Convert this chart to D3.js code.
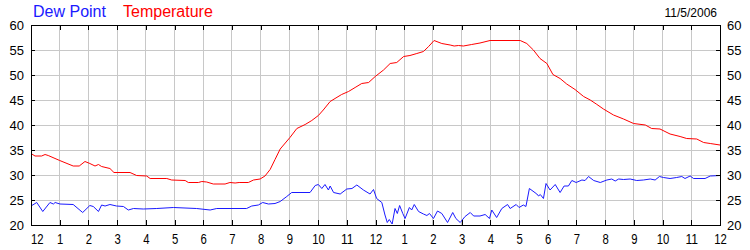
<!DOCTYPE html>
<html>
<head>
<meta charset="utf-8">
<script src="https://cdn.jsdelivr.net/npm/d3@7"></script>
<style>
  body { margin: 0; background: #fff; }
  text { font-family: Arial, "Liberation Sans", sans-serif; }
</style>
</head>
<body>
<svg id="chart" width="750" height="250"></svg>
<script>
// readings for 11/5/2006, hour of day -> degrees
const tempHours = [0, 0.14, 0.37, 0.49, 0.6, 1, 1.47, 1.68, 1.88, 2.05, 2.23, 2.35, 2.46, 2.75, 2.89, 3.45, 3.68, 4.03, 4.15, 4.73, 4.9, 5.37, 5.48, 5.83, 5.95, 6.12, 6.35, 6.76, 6.93, 7.11, 7.25, 7.57, 7.75, 7.98, 8.15, 8.33, 8.5, 8.68, 9.02, 9.26, 9.55, 9.78, 10.01, 10.18, 10.42, 10.59, 10.82, 11.06, 11.29, 11.52, 11.76, 11.99, 12.28, 12.51, 12.74, 12.98, 13.2, 13.44, 13.67, 13.85, 14.04, 14.31, 14.6, 14.74, 14.89, 15.06, 15.35, 15.64, 15.99, 17.04, 17.27, 17.5, 17.73, 17.97, 18.18, 18.43, 18.66, 18.95, 19.25, 19.48, 19.69, 19.94, 20.29, 20.64, 20.99, 21.4, 21.62, 21.91, 22.26, 22.61, 22.84, 23.19, 23.43, 23.66, 24];
const tempValues = [34.3, 33.8, 33.8, 34.1, 33.9, 32.9, 31.8, 31.8, 32.7, 32.3, 31.8, 32.1, 31.7, 31.3, 30.5, 30.5, 29.9, 29.8, 29.3, 29.3, 29.0, 28.9, 28.5, 28.5, 28.7, 28.6, 28.2, 28.2, 28.5, 28.4, 28.5, 28.5, 29.0, 29.2, 29.8, 31.1, 33.1, 35.2, 37.5, 39.3, 40.1, 40.9, 41.9, 43.0, 44.7, 45.3, 46.1, 46.7, 47.5, 48.3, 48.5, 49.7, 51.0, 52.3, 52.5, 53.7, 53.9, 54.3, 54.7, 55.7, 56.9, 56.3, 56.0, 55.8, 55.9, 55.8, 56.1, 56.4, 56.9, 56.9, 56.3, 55.0, 53.3, 52.3, 50.1, 49.3, 48.2, 47.1, 45.7, 45.0, 44.2, 43.2, 42.0, 41.2, 40.3, 40.0, 39.3, 39.2, 38.2, 37.7, 37.3, 37.2, 36.5, 36.3, 36.0];

const dewHours = [0, 0.2, 0.41, 0.66, 0.78, 0.84, 1.01, 1.47, 1.8, 2.05, 2.17, 2.35, 2.46, 2.58, 2.75, 2.98, 3.22, 3.39, 3.57, 3.91, 4.38, 4.96, 5.77, 6.24, 6.47, 7.51, 7.69, 7.92, 8.07, 8.27, 8.5, 8.68, 8.91, 9.08, 9.37, 9.72, 9.9, 10.01, 10.13, 10.24, 10.36, 10.42, 10.54, 10.77, 11, 11.18, 11.35, 11.58, 11.81, 11.93, 12.04, 12.22, 12.33, 12.41, 12.48, 12.58, 12.68, 12.76, 12.84, 12.95, 13.03, 13.18, 13.26, 13.35, 13.5, 13.67, 13.79, 13.88, 14.02, 14.16, 14.31, 14.51, 14.69, 14.8, 14.95, 15.12, 15.3, 15.42, 15.64, 15.82, 15.97, 16.05, 16.22, 16.4, 16.6, 16.69, 16.9, 17, 17.15, 17.24, 17.36, 17.62, 17.68, 17.74, 17.85, 17.94, 18.08, 18.26, 18.43, 18.57, 18.72, 18.84, 18.99, 19.19, 19.3, 19.42, 19.6, 19.83, 20.06, 20.23, 20.35, 20.47, 20.64, 20.87, 21.1, 21.33, 21.57, 21.74, 21.89, 22.03, 22.26, 22.49, 22.67, 22.78, 22.96, 23.08, 23.48, 23.66, 24];
const dewValues = [23.8, 24.5, 22.7, 24.5, 24.2, 24.5, 24.2, 24.1, 22.5, 23.9, 23.7, 22.7, 24.0, 23.8, 24.1, 23.8, 23.7, 23.0, 23.3, 23.2, 23.3, 23.5, 23.3, 23.0, 23.3, 23.3, 23.8, 24.0, 24.5, 24.2, 24.3, 24.7, 25.7, 26.5, 26.5, 26.5, 27.9, 28.1, 27.3, 28.1, 27.0, 27.8, 26.5, 26.2, 27.2, 27.3, 28.0, 27.0, 26.2, 27.1, 25.3, 24.5, 22.0, 20.5, 21.1, 20.2, 23.3, 22.3, 23.9, 22.3, 21.3, 23.5, 23.0, 24.1, 22.7, 22.2, 21.9, 22.3, 21.3, 22.8, 22.3, 20.5, 22.5, 21.3, 20.5, 21.7, 22.5, 21.8, 21.8, 22.1, 21.3, 23.0, 21.5, 23.3, 24.1, 23.3, 24.1, 23.5, 24.0, 23.7, 27.3, 26.2, 25.8, 26.1, 25.3, 28.3, 27.0, 28.1, 26.5, 27.8, 27.8, 28.9, 28.5, 29.0, 28.9, 29.7, 28.9, 28.5, 29.0, 29.2, 28.8, 29.2, 29.1, 29.2, 28.9, 29.0, 29.2, 29.0, 29.7, 29.5, 29.3, 29.5, 29.7, 29.3, 29.8, 29.3, 29.3, 29.8, 29.9];

const hourTicks = d3.range(0, 25);          // 12, 1, ... 11, 12
const degreeTicks = [20, 25, 30, 35, 40, 45, 50, 55, 60];
const legendNames = ['Dew Point', 'Temperature'];
const chartDate = '11/5/2006';

const svg = d3.select('#chart');
const plotLeft = 31, plotRight = 720, plotTop = 25, plotBottom = 225;

const x = d3.scaleLinear().domain([0, 24]).range([plotLeft, plotRight]);
const y = d3.scaleLinear().domain([20, 60]).range([plotBottom, plotTop]);

svg.append('rect').attr('width', 750).attr('height', 250).attr('fill', '#fff');

// grid
const grid = svg.append('g')
  .attr('stroke', '#c8c8c8')
  .attr('shape-rendering', 'crispEdges');
grid.selectAll('.vg').data(hourTicks.slice(1, -1)).join('line')
  .attr('x1', d => x(d)).attr('x2', d => x(d))
  .attr('y1', plotTop).attr('y2', plotBottom);
grid.selectAll('.hg').data(degreeTicks.slice(1, -1)).join('line')
  .attr('x1', plotLeft).attr('x2', plotRight)
  .attr('y1', d => y(d)).attr('y2', d => y(d));

// series
const line = d3.line().x(d => x(d[0])).y(d => y(d[1]));
svg.append('path')
  .datum(d3.zip(dewHours, dewValues))
  .attr('fill', 'none').attr('stroke', '#1a1aff').attr('stroke-width', 1)
  .attr('d', line);
svg.append('path')
  .datum(d3.zip(tempHours, tempValues))
  .attr('fill', 'none').attr('stroke', '#ff0000').attr('stroke-width', 1)
  .attr('d', line);

// frame
svg.append('rect')
  .attr('x', plotLeft).attr('y', plotTop)
  .attr('width', plotRight - plotLeft).attr('height', plotBottom - plotTop)
  .attr('fill', 'none').attr('stroke', '#000')
  .attr('shape-rendering', 'crispEdges');

const hourLabel = d => (d % 12 === 0 ? 12 : d % 12);

function styleAxis(g, size) {
  g.select('.domain').remove();
  g.selectAll('line').attr('shape-rendering', 'crispEdges');
  g.selectAll('text').attr('font-size', size).attr('fill', '#000')
    .attr('font-family', 'Arial, "Liberation Sans", sans-serif');
}

// bottom axis, ticks pointing inward
const xAxis = svg.append('g')
  .attr('transform', `translate(0,${plotBottom})`)
  .call(d3.axisBottom(x).tickValues(hourTicks).tickFormat(hourLabel)
    .tickSizeInner(-5).tickSizeOuter(0).tickPadding(9))
  .call(g => styleAxis(g, 14));
xAxis.selectAll('text')
  .attr('textLength', d => String(hourLabel(d)).length * 6.3)
  .attr('lengthAdjust', 'spacingAndGlyphs');
xAxis.select('.tick text').attr('text-anchor', 'start').attr('x', -0.5);

svg.append('g')
  .attr('transform', `translate(0,${plotTop})`)
  .call(d3.axisTop(x).tickValues(hourTicks.slice(1, -1)).tickFormat('')
    .tickSizeInner(-5).tickSizeOuter(0))
  .call(g => styleAxis(g, 12));

svg.append('g')
  .attr('transform', `translate(${plotLeft},0)`)
  .call(d3.axisLeft(y).tickValues(degreeTicks)
    .tickSizeInner(-4).tickSizeOuter(0).tickPadding(7))
  .call(g => styleAxis(g, 13));

svg.append('g')
  .attr('transform', `translate(${plotRight},0)`)
  .call(d3.axisRight(y).tickValues(degreeTicks)
    .tickSizeInner(-4).tickSizeOuter(0).tickPadding(7))
  .call(g => styleAxis(g, 13));

// legend
const legendColors = ['#1a1aff', '#ff0000'];
svg.selectAll('.legend').data(legendNames).join('text')
  .attr('x', (d, i) => [33, 123][i]).attr('y', 17)
  .attr('font-size', 16)
  .attr('fill', (d, i) => legendColors[i])
  .text(d => d);

svg.append('text')
  .attr('x', 717).attr('y', 17)
  .attr('text-anchor', 'end').attr('font-size', 12)
  .text(chartDate);
</script>
</body>
</html>
